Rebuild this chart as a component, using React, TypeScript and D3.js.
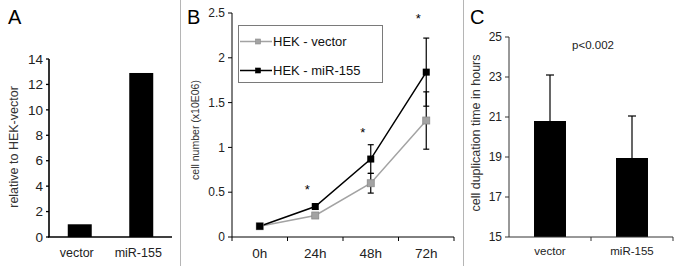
import React from "react";
import * as d3 from "d3";

// Panel A
const aCategories = ["vector", "miR-155"];
const aValues = [1.0, 12.9];
const aTicks = [0, 2, 4, 6, 8, 10, 12, 14];

// Panel B
const bTimes = ["0h", "24h", "48h", "72h"];
const bVector = [0.12, 0.24, 0.6, 1.3];
const bVectorErr = [0.01, 0.03, 0.11, 0.32];
const bMir = [0.12, 0.34, 0.87, 1.84];
const bMirErr = [0.01, 0.03, 0.16, 0.38];
const bStars: (number | null)[] = [null, 0.55, 1.18, 2.45];
const bTicks = [0, 0.5, 1, 1.5, 2, 2.5];
const bTickLabels = ["0", "0.5", "1", "1.5", "2", "2.5"];
const bLegend = ["HEK - vector", "HEK - miR-155"];

// Panel C
const cCategories = ["vector", "miR-155"];
const cValues = [20.8, 18.95];
const cErr = [2.3, 2.1];
const cTicks = [15, 17, 19, 21, 23, 25];

const FONT = "'Liberation Sans', Arial, Helvetica, sans-serif";
const GRAY = "#a3a3a3";

export default function App() {
  // Scales A
  const ay = d3.scaleLinear().domain([0, 14]).range([237, 59]);
  const ax = d3.scaleBand<string>().domain(aCategories).range([49, 172]).paddingInner(0.61).paddingOuter(0.305);

  // Scales B
  const by = d3.scaleLinear().domain([0, 2.5]).range([237, 13]);
  const bx = d3.scaleBand<string>().domain(bTimes).range([232, 454]);
  const bcx = (t: string) => (bx(t) as number) + bx.bandwidth() / 2;
  const line = d3
    .line<number>()
    .x((_, i) => bcx(bTimes[i]))
    .y((d) => by(d));

  // Scales C
  const cy = d3.scaleLinear().domain([15, 25]).range([237, 37]);
  const cx = d3.scaleBand<string>().domain(cCategories).range([509, 673]).paddingInner(0.61).paddingOuter(0.305);

  const bBoundaries = [...bTimes.map((t) => bx(t) as number), 454];

  const errBar = (x: number, y1: number, y2: number, cap: number, key: string) => (
    <g key={key} stroke="#000" strokeWidth={1.2}>
      <line x1={x} x2={x} y1={y1} y2={y2} />
      <line x1={x - cap / 2} x2={x + cap / 2} y1={y1} y2={y1} />
      <line x1={x - cap / 2} x2={x + cap / 2} y1={y2} y2={y2} />
    </g>
  );

  return (
    <svg
      width={682}
      height={266}
      style={{ position: "absolute", left: 0, top: 0, background: "#fff" }}
      fontFamily={FONT}
    >
      <rect x={0} y={0} width={682} height={266} fill="#fff" />
      {/* separators */}
      <line x1={180.5} x2={180.5} y1={0} y2={266} stroke="#b5b5b5" strokeWidth={1} />
      <line x1={463.5} x2={463.5} y1={0} y2={266} stroke="#b5b5b5" strokeWidth={1} />

      {/* Panel letters */}
      <text x={8} y={24} fontSize={20} fill="#000">A</text>
      <text x={187} y={24} fontSize={20} fill="#000">B</text>
      <text x={470} y={24} fontSize={20} fill="#000">C</text>

      {/* ---------- Panel A ---------- */}
      <g>
        {aCategories.map((c, i) => (
          <rect
            key={c}
            x={ax(c)}
            width={ax.bandwidth()}
            y={ay(aValues[i])}
            height={ay(0) - ay(aValues[i])}
            fill="#000"
          />
        ))}
        <line x1={49} x2={49} y1={ay(14)} y2={ay(0)} stroke="#000" strokeWidth={1.6} />
        <line x1={48} x2={172} y1={ay(0)} y2={ay(0)} stroke="#000" strokeWidth={1.6} />
        {aTicks.map((t) => (
          <g key={t}>
            <line x1={46} x2={49} y1={ay(t)} y2={ay(t)} stroke="#000" strokeWidth={1.3} />
            <text x={43} y={ay(t)} dy="0.35em" textAnchor="end" fontSize={13.5} fill="#222">
              {t}
            </text>
          </g>
        ))}
        {aCategories.map((c) => (
          <text
            key={c}
            x={(ax(c) as number) + ax.bandwidth() / 2 - 3}
            y={257}
            textAnchor="middle"
            fontSize={12.5}
            fill="#222"
          >
            {c}
          </text>
        ))}
        <text
          transform={`translate(17.5,147) rotate(-90)`}
          textAnchor="middle"
          fontSize={12.5}
          fill="#333"
        >
          relative to HEK-vector
        </text>
      </g>

      {/* ---------- Panel B ---------- */}
      <g>
        <line x1={232} x2={232} y1={by(2.5)} y2={by(0)} stroke="#000" strokeWidth={1} />
        <line x1={232} x2={454} y1={by(0)} y2={by(0)} stroke="#000" strokeWidth={1} />
        {bTicks.map((t, i) => (
          <g key={t}>
            <line x1={228} x2={232} y1={by(t)} y2={by(t)} stroke="#000" strokeWidth={1} />
            <text x={225} y={by(t)} dy="0.35em" textAnchor="end" fontSize={12} fill="#222">
              {bTickLabels[i]}
            </text>
          </g>
        ))}
        {bBoundaries.map((x, i) => (
          <line key={i} x1={x} x2={x} y1={by(0)} y2={by(0) + 4} stroke="#000" strokeWidth={1} />
        ))}
        {bTimes.map((t) => (
          <text key={t} x={bcx(t)} y={258} textAnchor="middle" fontSize={13.5} fill="#222">
            {t}
          </text>
        ))}
        <text
          transform={`translate(198.5,130) rotate(-90)`}
          textAnchor="middle"
          fontSize={10.5}
          fill="#333"
        >
          cell number (x10E06)
        </text>

        {/* error bars */}
        {bTimes.map((t, i) =>
          errBar(bcx(t), by(bVector[i] + bVectorErr[i]), by(bVector[i] - bVectorErr[i]), 6, "ve" + t)
        )}
        {bTimes.map((t, i) =>
          errBar(bcx(t), by(bMir[i] + bMirErr[i]), by(bMir[i] - bMirErr[i]), 6, "me" + t)
        )}

        {/* lines */}
        <path d={line(bVector) as string} fill="none" stroke={GRAY} strokeWidth={1.5} />
        <path d={line(bMir) as string} fill="none" stroke="#000" strokeWidth={1.5} />
        {bVector.map((v, i) => (
          <rect
            key={"vm" + i}
            x={bcx(bTimes[i]) - 3.5}
            y={by(v) - 3.5}
            width={7}
            height={7}
            fill={GRAY}
            stroke="#8a8a8a"
            strokeWidth={0.8}
          />
        ))}
        {bMir.map((v, i) => (
          <rect
            key={"mm" + i}
            x={bcx(bTimes[i]) - 3.5}
            y={by(v) - 3.5}
            width={7}
            height={7}
            fill="#000"
          />
        ))}

        {/* significance */}
        {bStars.map((s, i) =>
          s === null ? null : (
            <text
              key={"s" + i}
              x={bcx(bTimes[i]) - 8}
              y={by(s) + 6}
              textAnchor="middle"
              fontSize={13}
              fill="#000"
            >
              *
            </text>
          )
        )}

        {/* legend */}
        <rect x={238.5} y={25.5} width={144} height={57} fill="#fff" stroke="#7a7a7a" strokeWidth={1} />
        {bLegend.map((label, i) => {
          const yy = i === 0 ? 41.5 : 70.5;
          const col = i === 0 ? GRAY : "#000";
          return (
            <g key={label}>
              <line x1={240} x2={272} y1={yy} y2={yy} stroke={col} strokeWidth={1.5} />
              <rect
                x={258 - 2.5}
                y={yy - 2.5}
                width={5}
                height={5}
                fill={col}
                stroke={i === 0 ? "#8a8a8a" : "#000"}
                strokeWidth={0.6}
              />
              <text x={273} y={yy} dy="0.36em" fontSize={13} fill="#111">
                {label}
              </text>
            </g>
          );
        })}
      </g>

      {/* ---------- Panel C ---------- */}
      <g>
        {cCategories.map((c, i) => {
          const x0 = cx(c) as number;
          const xm = x0 + cx.bandwidth() / 2;
          return (
            <g key={c}>
              <rect
                x={x0}
                width={cx.bandwidth()}
                y={cy(cValues[i])}
                height={cy(15) - cy(cValues[i])}
                fill="#000"
              />
              <line x1={xm} x2={xm} y1={cy(cValues[i])} y2={cy(cValues[i] + cErr[i])} stroke="#000" strokeWidth={1.2} />
              <line x1={xm - 4} x2={xm + 4} y1={cy(cValues[i] + cErr[i])} y2={cy(cValues[i] + cErr[i])} stroke="#000" strokeWidth={1.2} />
            </g>
          );
        })}
        <line x1={509} x2={509} y1={cy(25)} y2={cy(15)} stroke="#333" strokeWidth={1} />
        <line x1={509} x2={673} y1={cy(15)} y2={cy(15)} stroke="#333" strokeWidth={1} />
        {cTicks.map((t) => (
          <g key={t}>
            <line x1={505} x2={509} y1={cy(t)} y2={cy(t)} stroke="#333" strokeWidth={1} />
            <text x={502} y={cy(t)} dy="0.35em" textAnchor="end" fontSize={12} fill="#222">
              {t}
            </text>
          </g>
        ))}
        {[591, 673].map((x) => (
          <line key={x} x1={x} x2={x} y1={cy(15)} y2={cy(15) + 4} stroke="#333" strokeWidth={1} />
        ))}
        {cCategories.map((c) => (
          <text
            key={c}
            x={(cx(c) as number) + cx.bandwidth() / 2}
            y={255}
            textAnchor="middle"
            fontSize={11.5}
            fill="#222"
          >
            {c}
          </text>
        ))}
        <text x={593} y={49} textAnchor="middle" fontSize={11.5} fill="#222">
          p&lt;0.002
        </text>
        <text
          transform={`translate(480,133) rotate(-90)`}
          textAnchor="middle"
          fontSize={12.5}
          fill="#333"
        >
          cell duplication time in hours
        </text>
      </g>
    </svg>
  );
}
